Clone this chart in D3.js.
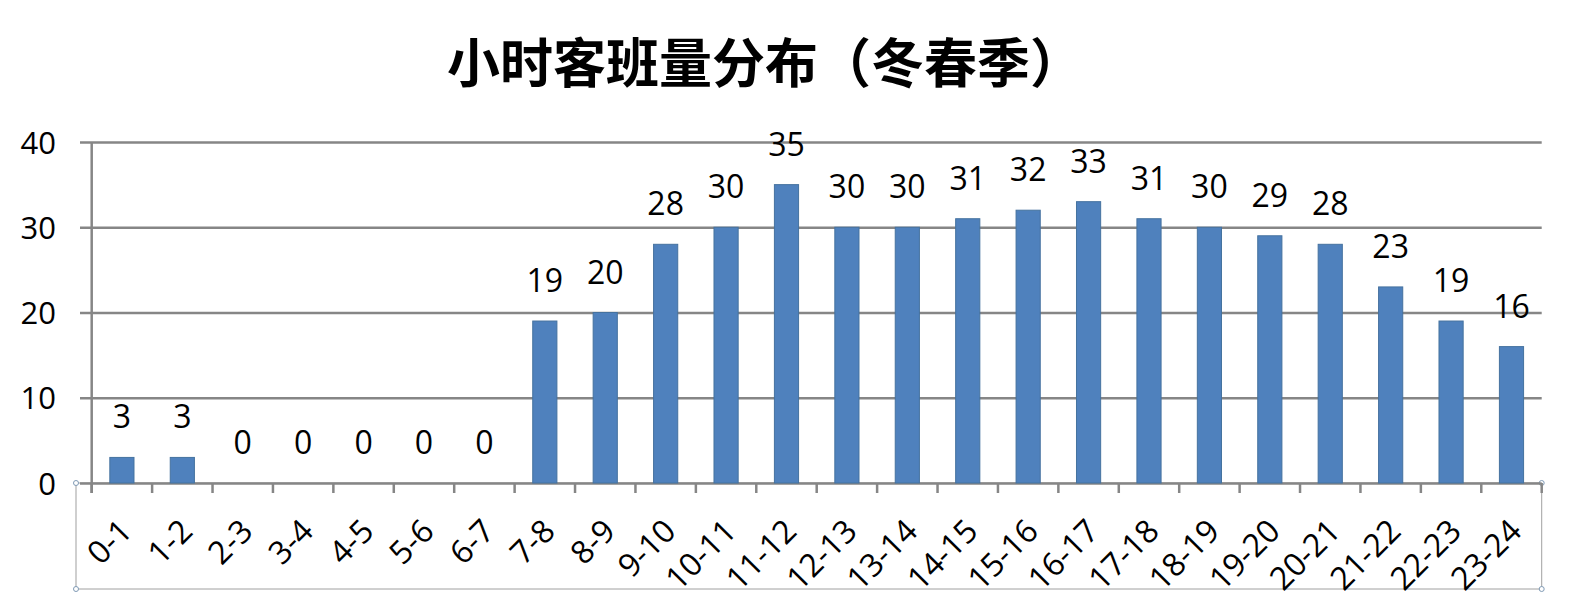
<!DOCTYPE html>
<html>
<head>
<meta charset="utf-8">
<script src="https://cdn.jsdelivr.net/npm/d3@7"></script>
<style>
  body { margin: 0; background: #fff; }
  svg { display: block; }
  .tick text { fill: #000; }
</style>
</head>
<body>
<svg id="chart"></svg>
<script>
const title = "小时客班量分布（冬春季）";
const hours = ["0-1", "1-2", "2-3", "3-4", "4-5", "5-6", "6-7", "7-8", "8-9", "9-10", "10-11", "11-12",
               "12-13", "13-14", "14-15", "15-16", "16-17", "17-18", "18-19", "19-20", "20-21", "21-22", "22-23", "23-24"];
const flights = [3, 3, 0, 0, 0, 0, 0, 19, 20, 28, 30, 35, 30, 30, 31, 32, 33, 31, 30, 29, 28, 23, 19, 16];
const yTicks = [0, 10, 20, 30, 40];

const width = 1578;
const height = 612;
const plotLeft = 91.7, plotRight = 1541.7, plotTop = 142, plotBottom = 483;
const gridColor = "#868686";
const font = "'Open Sans', 'Noto Sans', sans-serif";

const svg = d3.select("#chart")
    .attr("width", width)
    .attr("height", height);

svg.append("text")
    .attr("x", 765)
    .attr("y", 83)
    .attr("text-anchor", "middle")
    .attr("font-family", "'Noto Sans CJK SC', sans-serif")
    .attr("font-weight", 700)
    .attr("font-size", 53)
    .text(title);

const x = d3.scaleBand()
    .domain(hours)
    .range([plotLeft, plotRight])
    .paddingInner(0.6)
    .paddingOuter(0.3);

const y = d3.scaleLinear()
    .domain([0, 40])
    .range([plotBottom, plotTop]);

// frame below the axis
svg.append("rect")
    .attr("x", 76).attr("y", plotBottom)
    .attr("width", plotRight - 76).attr("height", 106)
    .attr("fill", "none")
    .attr("stroke", "#a0a0a0")
    .attr("stroke-width", 1);

svg.selectAll("circle.handle")
    .data([[76, plotBottom], [plotRight, plotBottom], [76, plotBottom + 106], [plotRight, plotBottom + 106]])
    .enter()
    .append("circle")
    .attr("class", "handle")
    .attr("cx", d => d[0]).attr("cy", d => d[1])
    .attr("r", 2.5)
    .attr("fill", "#fff")
    .attr("stroke", "#7f9ab5")
    .attr("stroke-width", 1);

// y axis with gridlines
const yAxis = svg.append("g")
    .attr("transform", `translate(80,0)`)
    .call(d3.axisLeft(y)
        .tickValues(yTicks)
        .tickSizeInner(-(plotRight - 80))
        .tickSizeOuter(0)
        .tickPadding(24));

yAxis.select(".domain").remove();
yAxis.selectAll(".tick line")
    .attr("stroke", gridColor)
    .attr("stroke-width", 2.5);
yAxis.selectAll(".tick text")
    .attr("font-family", font)
    .attr("font-size", 31)
    .attr("dy", "0.36em");

svg.append("line")
    .attr("x1", plotLeft).attr("x2", plotLeft)
    .attr("y1", plotTop).attr("y2", plotBottom + 10)
    .attr("stroke", gridColor)
    .attr("stroke-width", 2.5);

// x axis boundary ticks
const step = x.step();
const edges = hours.map(d => x(d) - (step - x.bandwidth()) / 2).concat([plotRight]);

svg.selectAll("line.xtick")
    .data(edges)
    .enter()
    .append("line")
    .attr("class", "xtick")
    .attr("x1", d => d).attr("x2", d => d)
    .attr("y1", plotBottom).attr("y2", plotBottom + 10)
    .attr("stroke", gridColor)
    .attr("stroke-width", 2.5);

const xAxis = svg.append("g")
    .attr("transform", `translate(0,${plotBottom})`)
    .call(d3.axisBottom(x).tickSize(0).tickPadding(0));

xAxis.select(".domain").remove();
xAxis.selectAll(".tick text")
    .attr("font-family", font)
    .attr("font-size", 32)
    .attr("text-anchor", "end")
    .attr("dy", 0)
    .attr("transform", "translate(12,50) rotate(-45)");

// bars
const bars = svg.selectAll("g.bar")
    .data(flights)
    .enter()
    .append("g")
    .attr("class", "bar")
    .attr("transform", (d, i) => `translate(${x(hours[i])}, 0)`);

bars.append("rect")
    .attr("width", x.bandwidth())
    .attr("y", d => y(d))
    .attr("height", d => plotBottom - y(d))
    .attr("fill", "#4f81bd")
    .attr("stroke", "#45729f")
    .attr("stroke-width", 1);

bars.append("text")
    .attr("x", x.bandwidth() / 2)
    .attr("y", d => y(d) - 29)
    .attr("text-anchor", "middle")
    .attr("font-family", font)
    .attr("font-size", 32)
    .attr("fill", "#000")
    .text(d => d);
</script>
</body>
</html>
